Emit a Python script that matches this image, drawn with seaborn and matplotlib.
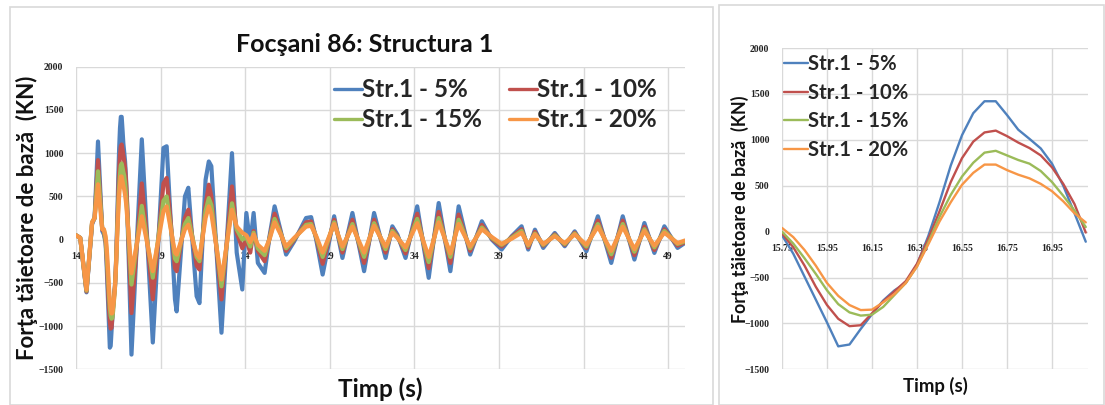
import numpy as np
import pandas as pd
import matplotlib
matplotlib.use("Agg")
import matplotlib.pyplot as plt
from matplotlib.patches import Rectangle
from matplotlib.lines import Line2D
import seaborn as sns

sns.set_theme(style="white")
plt.rcParams["font.family"] = ["Lato", "DejaVu Sans"]

series_names = ["Str.1 - 5%", "Str.1 - 10%", "Str.1 - 15%", "Str.1 - 20%"]
series_colors = ["#4F81BD", "#C0504D", "#9BBB59", "#F79646"]

# --- record before the zoom window (s, kN) ---
t_a = [14.0, 14.25, 14.62, 14.95, 15.1, 15.3, 15.55, 15.65]
f5_a = [50, 20, -610, 180, 250, 1135, 100, 60]
f10_a = [50, 20, -600, 190, 250, 920, 120, 90]
f15_a = [50, 20, -590, 200, 250, 790, 130, 110]
f20_a = [50, 20, -580, 200, 250, 640, 120, 120]

# --- zoom window 15.75 - 17.10 s ---
t_zoom = [15.75, 15.80, 15.85, 15.90, 15.95, 16.00, 16.05, 16.10, 16.15, 16.20,
          16.25, 16.30, 16.35, 16.40, 16.45, 16.50, 16.55, 16.60, 16.65, 16.70,
          16.75, 16.80, 16.85, 16.90, 16.95, 17.00, 17.05, 17.10]
f5_zoom = [-40, -240, -490, -740, -990, -1250, -1230, -1060, -900, -750,
           -640, -560, -360, -50, 320, 720, 1050, 1290, 1420, 1420,
           1270, 1110, 1010, 906, 740, 500, 200, -110]
f10_zoom = [-20, -170, -370, -600, -800, -950, -1030, -1020, -890, -760,
            -650, -540, -350, -80, 220, 540, 800, 980, 1080, 1100,
            1040, 970, 910, 830, 700, 520, 300, -10]
f15_zoom = [0, -130, -290, -460, -640, -790, -880, -915, -905, -820,
            -690, -560, -380, -120, 160, 400, 600, 750, 860, 880,
            830, 780, 740, 660, 540, 390, 230, 50]
f20_zoom = [40, -60, -200, -370, -560, -700, -800, -855, -850, -770,
            -680, -560, -380, -140, 110, 320, 510, 640, 730, 730,
            670, 620, 580, 520, 440, 330, 200, 100]

# --- record after the zoom window ---
t_b = [17.28, 17.89, 18.54, 19.17, 19.36, 19.85, 19.95, 20.44, 20.64, 21.13,
       21.3, 21.66, 21.85, 22.0, 22.6, 23.22, 23.5, 23.83, 24.07, 24.3,
       24.5, 24.75, 25.15, 25.45, 25.74, 26.1, 26.42, 26.9, 27.6, 27.9,
       28.2, 28.58, 29.26, 29.75, 30.34, 31.03, 31.62, 32.3, 32.7, 33.0,
       33.48, 34.17, 34.85, 35.44, 36.13, 36.62, 37.3, 37.99, 38.58, 39.16,
       39.75, 40.34, 40.73, 41.13, 41.62, 42.3, 42.89, 43.48, 44.17, 44.85,
       45.64, 46.32, 47.01, 47.6, 48.19, 48.78, 49.56, 50.0]
f5_b = [-1330, 1160, -1190, 1060, 1080, -690, -830, 500, 600, -654,
        -735, 692, 904, 850, -1077, 1000, -150, -577, 308, -50,
        308, -270, -385, 50, 385, 100, -173, -20, 250, 260,
        0, -404, 270, -212, 308, -365, 308, -212, 154, 58,
        -212, 385, -442, 423, -365, 385, -173, 212, 0, -115,
        38, 154, -115, 115, -96, 77, -77, 96, -135, 270,
        -270, 270, -231, 192, -154, 154, -96, -38]
f10_b = [-850, 650, -690, 650, 713, -330, -365, 250, 346, -300,
         -346, 400, 635, 500, -692, 615, 80, -100, 0, -150,
         100, -130, -250, 30, 300, 80, -130, 0, 200, 210,
         20, -280, 230, -150, 230, -270, 230, -150, 120, 40,
         -160, 300, -330, 320, -270, 290, -130, 170, 10, -80,
         30, 120, -90, 90, -70, 60, -60, 80, -100, 220,
         -210, 220, -180, 150, -120, 120, -70, -30]
f15_b = [-520, 390, -440, 450, 500, -220, -250, 180, 250, -200,
         -250, 330, 480, 400, -540, 420, 120, 0, 30, -80,
         80, -100, -180, 20, 240, 70, -100, 10, 170, 180,
         30, -200, 200, -110, 180, -200, 190, -110, 100, 30,
         -120, 240, -260, 250, -200, 230, -100, 140, 20, -60,
         20, 100, -70, 70, -60, 50, -50, 70, -80, 180,
         -170, 180, -140, 120, -90, 100, -50, -20]
f20_b = [-390, 270, -365, 330, 385, -150, -173, 120, 173, -170,
         -212, 250, 385, 300, -462, 346, 150, 80, 50, -30,
         60, -60, -130, 10, 200, 60, -80, 20, 150, 160,
         40, -150, 180, -80, 150, -150, 160, -80, 80, 20,
         -90, 190, -200, 200, -160, 180, -80, 120, 30, -50,
         10, 80, -60, 60, -50, 40, -40, 60, -60, 150,
         -130, 150, -110, 100, -70, 80, -40, -10]


def long_frame(times, columns):
    parts = []
    for name, vals in zip(series_names, columns):
        parts.append(pd.DataFrame({"Timp": times, "Forta": vals, "Serie": name}))
    return pd.concat(parts, ignore_index=True)


t_full = t_a + t_zoom + t_b
full_cols = [f5_a + f5_zoom + f5_b, f10_a + f10_zoom + f10_b,
             f15_a + f15_zoom + f15_b, f20_a + f20_zoom + f20_b]
df_full = long_frame(t_full, full_cols)
df_zoom = long_frame(t_zoom, [f5_zoom, f10_zoom, f15_zoom, f20_zoom])

W, H = 1105, 405
fig = plt.figure(figsize=(W / 100, H / 100), dpi=100)
fig.patch.set_facecolor("white")

# panel frames
for x0, y0, x1, y1 in [(10, 7, 713, 405), (719, 5, 1104, 405)]:
    fig.patches.append(Rectangle((x0 / W, 1 - y1 / H), (x1 - x0) / W, (y1 - y0) / H,
                                 transform=fig.transFigure, fill=False,
                                 edgecolor="#d9d9d9", linewidth=1.2))

ax1 = fig.add_axes([76 / W, 1 - 369.3 / H, (685 - 76) / W, (369.3 - 66.7) / H])
ax2 = fig.add_axes([782 / W, 1 - 369.3 / H, (1088 - 782) / W, (369.3 - 48) / H])

palette = dict(zip(series_names, series_colors))
sns.lineplot(data=df_full, x="Timp", y="Forta", hue="Serie", hue_order=series_names,
             palette=palette, linewidth=3.0, ax=ax1, legend=False, sort=False)
sns.lineplot(data=df_zoom, x="Timp", y="Forta", hue="Serie", hue_order=series_names,
             palette=palette, linewidth=1.7, ax=ax2, legend=False, sort=False)

tick_font = dict(family="Liberation Serif", weight="bold", size=7)

def style_axes(ax, xlim, xticks, xlabels):
    ax.set_xlim(*xlim)
    ax.set_ylim(-1500, 2000)
    ax.set_yticks(range(-1500, 2001, 500))
    ax.set_xticks(xticks)
    ax.set_xticklabels(xlabels)
    ax.grid(True, color="#d9d9d9", linewidth=1.0)
    ax.set_axisbelow(True)
    for s in ["top", "right", "left"]:
        ax.spines[s].set_visible(False)
    ax.spines["bottom"].set_position(("data", 0))
    ax.spines["bottom"].set_visible(False)
    ax.tick_params(axis="both", length=0)
    ax.tick_params(axis="x", pad=9)
    ax.tick_params(axis="y", pad=9)
    for lab in ax.get_xticklabels() + ax.get_yticklabels():
        lab.set_fontfamily(tick_font["family"])
        lab.set_fontweight(tick_font["weight"])
        lab.set_fontsize(tick_font["size"])
        lab.set_color("#222222")
    ax.set_xlabel("")
    ax.set_ylabel("")
    ax.set_facecolor("white")

x1_ticks = list(range(14, 50, 5))
style_axes(ax1, (14, 50), x1_ticks, [str(v) for v in x1_ticks])
x2_ticks = [15.75, 15.95, 16.15, 16.35, 16.55, 16.75, 16.95]
style_axes(ax2, (15.75, 17.11), x2_ticks, [f"{v:.2f}" for v in x2_ticks])

fig.text(365 / W, 1 - 44 / H, "Focşani 86: Structura 1", ha="center", va="center",
         fontsize=18, fontweight="bold", color="#111111")

ylab = "Forţa tăietoare de bază  (KN)"
fig.text(27 / W, 1 - 218 / H, ylab, rotation=90, ha="center", va="center",
         fontsize=16, fontweight="bold", color="#111111")
fig.text(740 / W, 1 - 209 / H, ylab, rotation=90, ha="center", va="center",
         fontsize=12.8, fontweight="bold", color="#111111")
fig.text(380 / W, 1 - 389 / H, "Timp (s)", ha="center", va="center",
         fontsize=17.5, fontweight="bold", color="#111111")
fig.text(935 / W, 1 - 386 / H, "Timp (s)", ha="center", va="center",
         fontsize=13.4, fontweight="bold", color="#111111")

# two-column legend filled row by row: 5% | 10% on top, 15% | 20% below
order = [0, 2, 1, 3]
handles = [Line2D([], [], color=series_colors[i], linewidth=2.4) for i in order]
labels = [series_names[i] for i in order]
leg1 = ax1.legend(handles, labels, ncol=2, loc="upper left",
                  bbox_to_anchor=(322 / W, 1 - 66 / H), bbox_transform=fig.transFigure,
                  frameon=False, handlelength=1.15, handletextpad=0.0,
                  columnspacing=1.1, labelspacing=0.3, borderpad=0,
                  prop=dict(family="Lato", weight="bold", size=17.5))
handles2 = [Line2D([], [], color=c, linewidth=1.7) for c in series_colors]
leg2 = ax2.legend(handles2, series_names, ncol=1, loc="upper left",
                  bbox_to_anchor=(774 / W, 1 - 44 / H), bbox_transform=fig.transFigure,
                  frameon=False, handlelength=1.2, handletextpad=0.0,
                  labelspacing=0.42, borderpad=0,
                  prop=dict(family="Lato", weight="bold", size=14.6))

fig.savefig("out.png", dpi=100, facecolor="white")
